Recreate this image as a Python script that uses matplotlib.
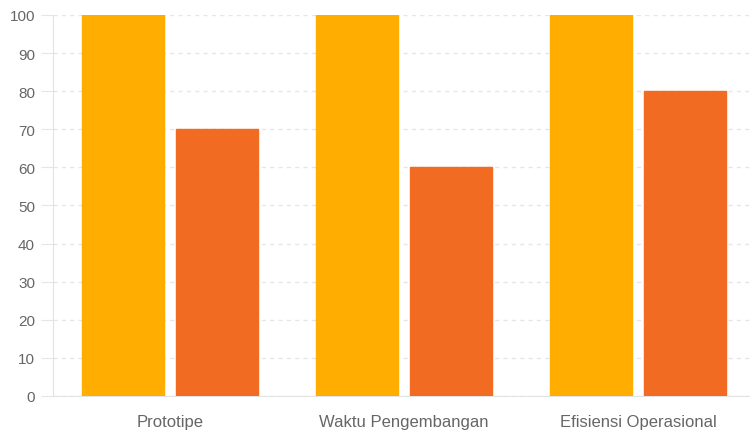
import matplotlib.pyplot as plt
import numpy as np

plt.rcParams['font.family'] = ['Liberation Sans', 'DejaVu Sans']

# Data
categories = ['Prototipe', 'Waktu Pengembangan', 'Efisiensi Operasional']
series_a = [100, 100, 100]
series_b = [70, 60, 80]
colors = ['#FFAD00', '#F26B22']

fig = plt.figure(figsize=(7.5, 4.31), dpi=100)
ax = fig.add_axes([0.0707, 0.079, 0.936, 0.884])

x = np.arange(len(categories))
width = 0.35
offset = 0.2

# Bars, round joins give slightly softened corners
for vals, color, off in [(series_a, colors[0], -offset), (series_b, colors[1], offset)]:
    ax.bar(x + off, vals, width, color=color, edgecolor=color, linewidth=1,
           joinstyle='round', zorder=3)

ax.set_xlim(-0.5, 2.5)
ax.set_ylim(0, 100)
ax.set_yticks(range(0, 101, 10))
ax.set_xticks(x)
ax.set_xticklabels(categories)

ax.yaxis.grid(True, linestyle=(0, (3, 3)), color='#e6e6e6', linewidth=1, zorder=0)
ax.tick_params(axis='y', length=9, color='#e6e6e6', labelcolor='#666666', labelsize=11, pad=4)
ax.tick_params(axis='x', length=0, labelcolor='#666666', labelsize=12, pad=13)

for side in ['top', 'right']:
    ax.spines[side].set_visible(False)
ax.spines['left'].set_color('#e3e3e3')
ax.spines['bottom'].set_color('#e3e3e3')

fig.savefig('out.png', dpi=100)
